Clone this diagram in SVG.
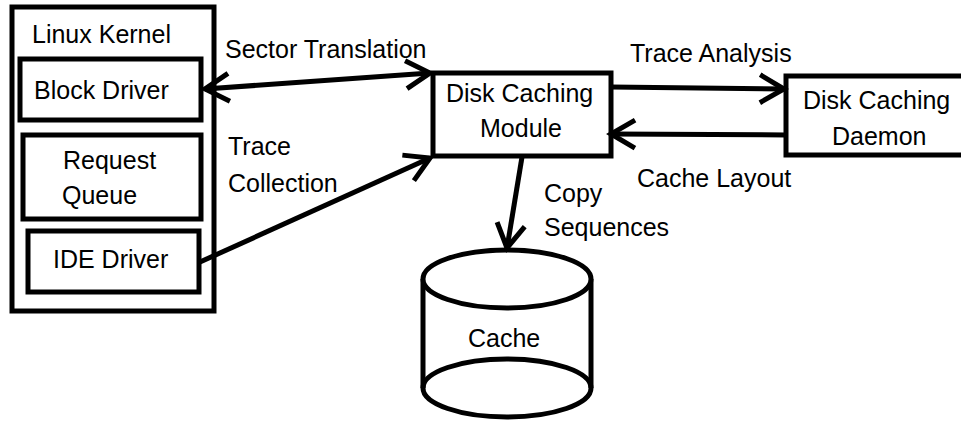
<svg xmlns="http://www.w3.org/2000/svg" width="961" height="421" viewBox="0 0 961 421">
<style>
.box{fill:#fff;stroke:#000;stroke-width:5}
.ln{fill:none;stroke:#000;stroke-width:5}
text{font-family:"Liberation Sans",Arial,sans-serif;font-size:25px;fill:#000}
</style>
<defs>
<marker id="ah" markerUnits="userSpaceOnUse" viewBox="-30 -20 34 40" refX="0" refY="0" markerWidth="34" markerHeight="40" orient="auto-start-reverse" overflow="visible">
<path d="M-24,-14 L0,0 L-24,14" fill="none" stroke="#000" stroke-width="5"/>
</marker>
</defs>
<rect width="961" height="421" fill="#fff"/>
<g id="linux-kernel">
<rect class="box" x="12" y="7" width="202" height="304"/>
<text x="32" y="43">Linux Kernel</text>
</g>
<g id="block-driver">
<rect class="box" x="20" y="59" width="181" height="61"/>
<text x="34" y="99">Block Driver</text>
</g>
<g id="request-queue">
<rect class="box" x="23" y="135" width="178" height="84"/>
<text x="63" y="169">Request</text>
<text x="62" y="204">Queue</text>
</g>
<g id="ide-driver">
<rect class="box" x="28" y="231" width="171" height="61"/>
<text x="53" y="268">IDE Driver</text>
</g>
<g id="module">
<rect class="box" x="433" y="73" width="178" height="83"/>
<text x="446" y="102">Disk Caching</text>
<text x="480" y="137">Module</text>
</g>
<g id="daemon">
<rect class="box" x="786" y="76" width="180" height="79"/>
<text x="803" y="109">Disk Caching</text>
<text x="832" y="145">Daemon</text>
</g>
<g id="cache">
<path class="box" d="M423,279 L423,388 A84,29 0 0 0 591,388 L591,279"/>
<ellipse class="box" cx="507" cy="279" rx="84" ry="29"/>
<path class="ln" d="M423,388 A84,29 0 0 1 591,388"/>
<text x="468" y="347">Cache</text>
</g>
<g id="connectors">
<line class="ln" x1="205" y1="89" x2="430" y2="73" marker-start="url(#ah)" marker-end="url(#ah)"/>
<line class="ln" x1="200" y1="262" x2="430" y2="158" marker-end="url(#ah)"/>
<line class="ln" x1="611" y1="87" x2="784" y2="89" marker-end="url(#ah)"/>
<line class="ln" x1="786" y1="135" x2="611" y2="134" marker-end="url(#ah)"/>
<line class="ln" x1="522" y1="157" x2="507" y2="248" marker-end="url(#ah)"/>
<text x="225" y="58">Sector Translation</text>
<text x="228" y="155">Trace</text>
<text x="228" y="192">Collection</text>
<text x="630" y="62">Trace Analysis</text>
<text x="637" y="187">Cache Layout</text>
<text x="544" y="202">Copy</text>
<text x="544" y="236">Sequences</text>
</g>
</svg>
